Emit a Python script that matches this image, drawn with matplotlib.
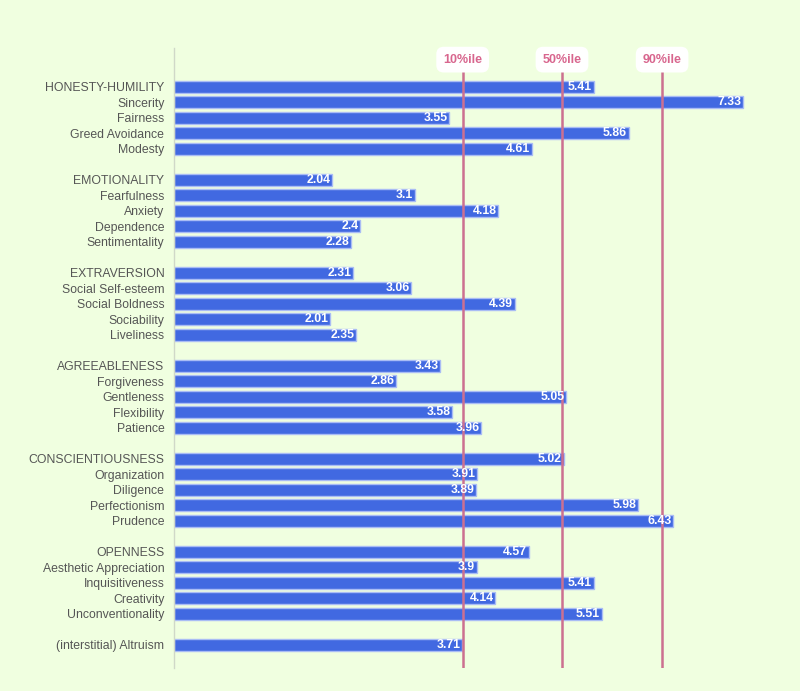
import matplotlib
matplotlib.use("Agg")
import matplotlib.pyplot as plt

labels = [
    "HONESTY-HUMILITY", "Sincerity", "Fairness", "Greed Avoidance", "Modesty", "",
    "EMOTIONALITY", "Fearfulness", "Anxiety", "Dependence", "Sentimentality", "",
    "EXTRAVERSION", "Social Self-esteem", "Social Boldness", "Sociability", "Liveliness", "",
    "AGREEABLENESS", "Forgiveness", "Gentleness", "Flexibility", "Patience", "",
    "CONSCIENTIOUSNESS", "Organization", "Diligence", "Perfectionism", "Prudence", "",
    "OPENNESS", "Aesthetic Appreciation", "Inquisitiveness", "Creativity", "Unconventionality", "",
    "(interstitial) Altruism",
]
values = [
    5.41, 7.33, 3.55, 5.86, 4.61, None,
    2.04, 3.1, 4.18, 2.4, 2.28, None,
    2.31, 3.06, 4.39, 2.01, 2.35, None,
    3.43, 2.86, 5.05, 3.58, 3.96, None,
    5.02, 3.91, 3.89, 5.98, 6.43, None,
    4.57, 3.9, 5.41, 4.14, 5.51, None,
    3.71,
]
pct_names = ["10%ile", "50%ile", "90%ile"]
pct_values = [3.72, 5.0, 6.29]

plt.rcParams['font.family'] = ['Liberation Sans', 'DejaVu Sans']
bg = "#F0FFE0"
fig = plt.figure(figsize=(8, 6.91), dpi=100, facecolor=bg)
ax = fig.add_axes([174/800, 1-668/691, (785-174)/800, (668-48)/691])
ax.set_facecolor(bg)

ys = list(range(len(labels)))
for y, v in zip(ys, values):
    if v is None:
        continue
    ax.barh(y, v, height=0.8, color="#4169E1", edgecolor="#A9BCF5", linewidth=1, zorder=2)
    ax.text(v - 0.02, y, f"{v:g}", ha="right", va="center", color="white",
            fontsize=8.8, fontweight="bold", zorder=5)

for name, pv in zip(pct_names, pct_values):
    ax.axvline(pv, color="#CC7090", linewidth=1.8, zorder=3)
    ax.text(pv, -1.75, name, ha="center", va="center", color="#D8668E",
            fontsize=9, fontweight="bold", zorder=6,
            bbox=dict(boxstyle="round,pad=0.55,rounding_size=0.6", fc="white", ec="none"))

ax.set_xlim(0, (785-174)/77.6)
ax.set_ylim(len(labels) - 1 + 1.5, -2.5)
ax.set_yticks(ys)
ax.set_yticklabels(labels, fontsize=8.8, color="#555555")
ax.tick_params(axis="y", length=0, pad=7)
ax.set_xticks([])
for s in ["top", "right", "bottom"]:
    ax.spines[s].set_visible(False)
ax.spines["left"].set_color("#D0D8C8")
ax.spines["left"].set_linewidth(1)

fig.savefig("out.png", dpi=100, facecolor=bg)
